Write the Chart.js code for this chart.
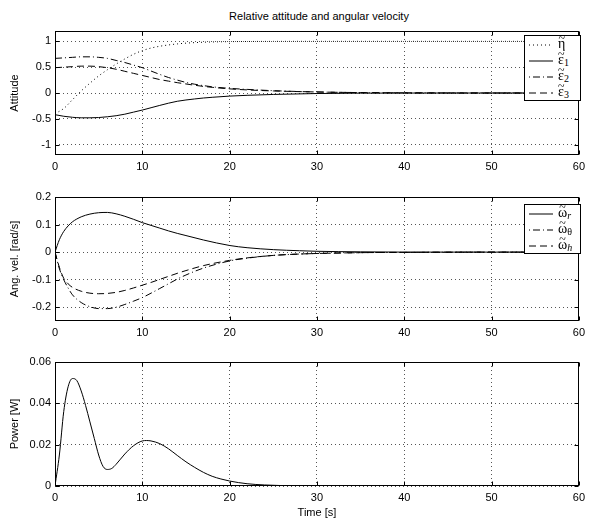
<!DOCTYPE html>
<html>
<head>
<meta charset="utf-8">
<script src="https://cdn.jsdelivr.net/npm/chart.js@4"></script>
<style>
  body { margin: 0; background: #fff; width: 590px; height: 521px; position: relative; overflow: hidden;
         font-family: "Liberation Sans", Arial, sans-serif; }
  .pane { position: absolute; left: 0; width: 590px; }
  canvas { display: block; }
  #title { position: absolute; top: 10px; left: 55px; width: 528px; text-align: center; font-size: 11px; line-height: 13px; }
  .legend { position: absolute; border: 1px solid #000; background: #fff; font-family: "Liberation Serif", serif;
            font-size: 14px; padding: 0 3px 0 4px; }
  .legend .row { height: 16px; line-height: 16px; white-space: nowrap; }
  .legend svg { vertical-align: middle; margin-right: 5px; }
  .t { position: relative; display: inline-block; line-height: 16px; }
  .t .tl { position: absolute; left: 0; right: 0; top: -4px; text-align: center; font-size: 12px; line-height: 12px; }
  .legend sub { font-size: 10px; vertical-align: -2px; }
</style>
</head>
<body>
<div id="title">Relative attitude and angular velocity</div>
<div class="pane" style="top:0;height:180px"><canvas id="c1" width="590" height="180"></canvas></div>
<div class="pane" style="top:180px;height:165px"><canvas id="c2" width="590" height="165"></canvas></div>
<div class="pane" style="top:345px;height:176px"><canvas id="c3" width="590" height="176"></canvas></div>

<div class="legend" style="left:524px;top:35px;width:48px">
  <div class="row"><svg width="24" height="4"><line x1="0" y1="2" x2="24" y2="2" stroke="#000" stroke-dasharray="1,3"/></svg><span class="t">η<span class="tl">~</span></span></div>
  <div class="row"><svg width="24" height="4"><line x1="0" y1="2" x2="24" y2="2" stroke="#000"/></svg><span class="t">ε<span class="tl">~</span></span><sub>1</sub></div>
  <div class="row"><svg width="24" height="4"><line x1="0" y1="2" x2="24" y2="2" stroke="#000" stroke-dasharray="1,3,7,3"/></svg><span class="t">ε<span class="tl">~</span></span><sub>2</sub></div>
  <div class="row"><svg width="24" height="4"><line x1="0" y1="2" x2="24" y2="2" stroke="#000" stroke-dasharray="7,4"/></svg><span class="t">ε<span class="tl">~</span></span><sub>3</sub></div>
</div>
<div class="legend" style="left:524px;top:204px;width:48px">
  <div class="row"><svg width="24" height="4"><line x1="0" y1="2" x2="24" y2="2" stroke="#000"/></svg><span class="t">ω<span class="tl">~</span></span><sub><i>r</i></sub></div>
  <div class="row"><svg width="24" height="4"><line x1="0" y1="2" x2="24" y2="2" stroke="#000" stroke-dasharray="1,3,7,3"/></svg><span class="t">ω<span class="tl">~</span></span><sub>θ</sub></div>
  <div class="row"><svg width="24" height="4"><line x1="0" y1="2" x2="24" y2="2" stroke="#000" stroke-dasharray="7,4"/></svg><span class="t">ω<span class="tl">~</span></span><sub><i>h</i></sub></div>
</div>

<script>
// --- data ---
const xTicks = [0, 10, 20, 30, 40, 50, 60];

const tAtt = [0, 1, 2, 3, 4, 5, 6, 7, 8, 9, 10, 11, 12, 13, 14, 15, 16, 17, 18, 20, 22, 25, 30, 35, 40, 50, 60];
const eta  = [-0.40, -0.30, -0.13, 0.04, 0.19, 0.33, 0.45, 0.56, 0.66, 0.75, 0.82, 0.87, 0.905, 0.93, 0.95, 0.965, 0.975, 0.983, 0.988, 0.994, 0.997, 0.999, 1, 1, 1, 1, 1];
const eps1 = [-0.42, -0.45, -0.47, -0.48, -0.48, -0.475, -0.46, -0.44, -0.41, -0.37, -0.33, -0.285, -0.24, -0.197, -0.16, -0.135, -0.115, -0.097, -0.083, -0.06, -0.045, -0.028, -0.01, -0.003, -0.001, 0, 0];
const eps2 = [0.67, 0.68, 0.69, 0.70, 0.70, 0.69, 0.67, 0.63, 0.59, 0.54, 0.49, 0.425, 0.36, 0.3, 0.25, 0.205, 0.17, 0.143, 0.12, 0.09, 0.07, 0.045, 0.02, 0.008, 0.003, 0, 0];
const eps3 = [0.49, 0.50, 0.51, 0.52, 0.52, 0.51, 0.49, 0.46, 0.42, 0.38, 0.34, 0.3, 0.26, 0.23, 0.2, 0.175, 0.15, 0.128, 0.11, 0.08, 0.06, 0.04, 0.02, 0.008, 0.003, 0, 0];
const attTicks = [-1, -0.5, 0, 0.5, 1];

const tVel = [0, 0.5, 1, 1.5, 2, 3, 4, 5, 6, 7, 8, 9, 10, 11, 12, 13, 14, 15, 17, 20, 22, 25, 28, 30, 35, 40, 50, 60];
const wR  = [0, 0.045, 0.075, 0.095, 0.11, 0.128, 0.138, 0.143, 0.144, 0.139, 0.13, 0.119, 0.107, 0.097, 0.087, 0.077, 0.068, 0.06, 0.044, 0.024, 0.016, 0.009, 0.005, 0.003, 0.001, 0, 0, 0];
const wTh = [0, -0.06, -0.1, -0.13, -0.155, -0.183, -0.198, -0.205, -0.205, -0.2, -0.19, -0.178, -0.165, -0.149, -0.132, -0.115, -0.098, -0.083, -0.058, -0.032, -0.022, -0.012, -0.007, -0.005, -0.002, -0.001, 0, 0];
const wH  = [0, -0.055, -0.095, -0.115, -0.128, -0.142, -0.149, -0.151, -0.15, -0.146, -0.139, -0.13, -0.12, -0.11, -0.099, -0.088, -0.077, -0.067, -0.049, -0.03, -0.021, -0.012, -0.007, -0.005, -0.002, -0.001, 0, 0];
const velTicks = [-0.2, -0.1, 0, 0.1, 0.2];

const tPow = [0, 0.5, 1, 1.5, 2, 2.5, 3, 3.5, 4, 4.5, 5, 5.5, 6, 6.5, 7, 8, 9, 10, 10.5, 11, 12, 13, 14, 15, 16, 17, 18, 19, 20, 22, 24, 26, 28, 30, 40, 50, 60];
const power = [0, 0.015, 0.036, 0.048, 0.052, 0.051, 0.046, 0.039, 0.031, 0.023, 0.015, 0.0095, 0.008, 0.0085, 0.0105, 0.0155, 0.0195, 0.0218, 0.022, 0.0218, 0.0205, 0.018, 0.0148, 0.0117, 0.009, 0.0066, 0.0047, 0.0034, 0.0024, 0.0011, 0.0005, 0.0002, 0.0001, 0, 0, 0, 0];
const powTicks = [0, 0.02, 0.04, 0.06];

// --- styles ---
const DOT = [1, 3];
const DASHDOT = [7, 3, 1, 3];
const DASH = [7, 4];

Chart.defaults.font.family = '"Liberation Sans", Arial, sans-serif';
Chart.defaults.font.size = 11;
Chart.defaults.color = '#000';
// dotted grid lines
Chart.defaults.scale.grid.borderDash = DOT;
Chart.defaults.scale.border.dash = DOT;

// box round the axes plus inward tick marks, matlab style
const frame = {
  id: 'frame',
  afterDraw(chart) {
    const { ctx, chartArea: a, scales: { x, y } } = chart;
    const l = Math.round(a.left) + 0.5, r = Math.round(a.right) - 0.5;
    const t = Math.round(a.top) + 0.5, b = Math.round(a.bottom) - 0.5;
    ctx.save();
    ctx.strokeStyle = '#000';
    ctx.lineWidth = 1;
    ctx.setLineDash([]);
    ctx.beginPath();
    x.ticks.forEach(tk => {
      const px = Math.round(x.getPixelForValue(tk.value)) + 0.5;
      ctx.moveTo(px, b); ctx.lineTo(px, b - 4);
      ctx.moveTo(px, t); ctx.lineTo(px, t + 4);
    });
    y.ticks.forEach(tk => {
      const py = Math.round(y.getPixelForValue(tk.value)) + 0.5;
      ctx.moveTo(l, py); ctx.lineTo(l + 4, py);
      ctx.moveTo(r, py); ctx.lineTo(r - 4, py);
    });
    ctx.stroke();
    ctx.strokeRect(l, t, r - l, b - t);
    ctx.restore();
  }
};

function series(ts, vs, dash) {
  return {
    data: ts.map((t, i) => ({ x: t, y: vs[i] })),
    borderColor: '#000',
    borderWidth: 1,
    borderDash: dash,
    pointRadius: 0,
    fill: false,
    cubicInterpolationMode: 'monotone'
  };
}

function makeChart(id, datasets, yMin, yMax, yTicks, yTitle, padTop, xHeight, xTitle) {
  return new Chart(document.getElementById(id), {
    type: 'line',
    data: { datasets: datasets },
    plugins: [frame],
    options: {
      responsive: false,
      animation: false,
      layout: { padding: { left: 0, top: padTop, right: 7, bottom: 0 } },
      plugins: { legend: { display: false }, tooltip: { enabled: false } },
      scales: {
        x: {
          type: 'linear', min: 0, max: 60,
          afterBuildTicks: s => { s.ticks = xTicks.map(v => ({ value: v })); },
          afterFit: s => { s.height = xHeight; },
          ticks: { padding: 5, maxRotation: 0, autoSkip: false },
          grid: { color: '#555', lineWidth: 1, drawTicks: false },
          border: { display: false },
          title: { display: !!xTitle, text: xTitle || '', padding: { top: 0, bottom: 1.5 }, font: { size: 11 } }
        },
        y: {
          type: 'linear', min: yMin, max: yMax,
          afterBuildTicks: s => { s.ticks = yTicks.map(v => ({ value: v })); },
          afterFit: s => { s.width = 55; },
          ticks: { padding: 4, callback: v => String(v) },
          grid: { color: '#555', lineWidth: 1, drawTicks: false },
          border: { display: false },
          title: { display: true, text: yTitle, padding: { top: 8.4, bottom: 0 }, font: { size: 11 } }
        }
      }
    }
  });
}

makeChart('c1', [
  series(tAtt, eta, DOT),
  series(tAtt, eps1, []),
  series(tAtt, eps2, DASHDOT),
  series(tAtt, eps3, DASH)
], -1.2, 1.2, attTicks, 'Attitude', 31, 25);

makeChart('c2', [
  series(tVel, wR, []),
  series(tVel, wTh, DASHDOT),
  series(tVel, wH, DASH)
], -0.25, 0.2, velTicks, 'Ang. vel. [rad/s]', 17, 24);

makeChart('c3', [
  series(tPow, power, [])
], 0, 0.06, powTicks, 'Power [W]', 17, 35, 'Time [s]');
</script>
</body>
</html>
